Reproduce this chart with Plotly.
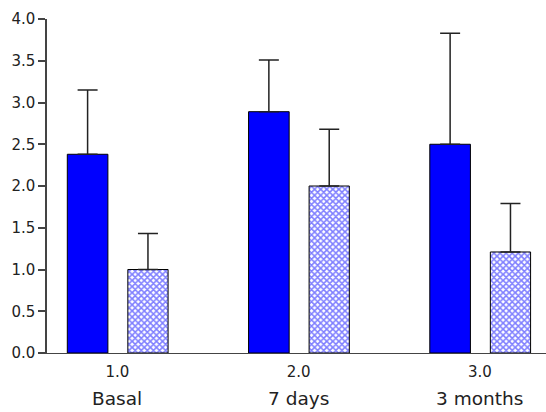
import plotly.graph_objects as go

positions = [1.0, 2.0, 3.0]
tick_numbers = ["1.0", "2.0", "3.0"]
categories = ["Basal", "7 days", "3 months"]
solid_values = [2.38, 2.89, 2.50]
solid_errors = [0.77, 0.62, 1.33]
hatched_values = [1.00, 2.00, 1.21]
hatched_errors = [0.43, 0.68, 0.58]
y_ticks = [0.0, 0.5, 1.0, 1.5, 2.0, 2.5, 3.0, 3.5, 4.0]

FONT = "DejaVu Sans, Verdana, sans-serif"

fig = go.Figure()
fig.add_trace(go.Bar(
    x=positions, y=solid_values, width=0.224, offset=-0.276,
    marker=dict(color="#0000FF", line=dict(color="#000000", width=1)),
    error_y=dict(type="data", symmetric=False, array=solid_errors,
                 arrayminus=[0] * len(solid_errors), color="#222222",
                 thickness=1.5, width=10),
    showlegend=False,
))
fig.add_trace(go.Bar(
    x=positions, y=hatched_values, width=0.222, offset=0.058,
    marker=dict(color="#FFFFFF", line=dict(color="#000000", width=1),
                pattern=dict(shape="x", fgcolor="#0000FF", bgcolor="#FFFFFF",
                             size=4.3, solidity=0.6)),
    error_y=dict(type="data", symmetric=False, array=hatched_errors,
                 arrayminus=[0] * len(hatched_errors), color="#222222",
                 thickness=1.5, width=10),
    showlegend=False,
))

for p, c in zip(positions, categories):
    fig.add_annotation(x=p, y=0, xref="x", yref="y", text=c, showarrow=False,
                       yanchor="middle", yshift=-45,
                       font=dict(family=FONT, size=18.5, color="#222222"))

fig.update_layout(
    width=546, height=412,
    margin=dict(l=47, r=0, t=19, b=58.5),
    paper_bgcolor="white", plot_bgcolor="white",
    barmode="overlay",
    font=dict(family=FONT, color="#222222", size=15),
    xaxis=dict(range=[0.612, 3.365], tickvals=positions, ticktext=tick_numbers,
               showgrid=False, zeroline=False, showline=True, linecolor="#444444",
               linewidth=1, ticks="", tickfont=dict(size=15), ticklabelstandoff=5),
    yaxis=dict(range=[0, 4], tickvals=y_ticks, ticktext=[f"{v:.1f}" for v in y_ticks],
               showgrid=False, zeroline=False, showline=True, linecolor="#444444",
               linewidth=1.5, ticks="outside", ticklen=7, tickcolor="#444444",
               tickwidth=1.5, tickfont=dict(size=15)),
)

fig.write_html("out.html", config={"displayModeBar": False},
               post_script="document.body.style.margin='0';")
